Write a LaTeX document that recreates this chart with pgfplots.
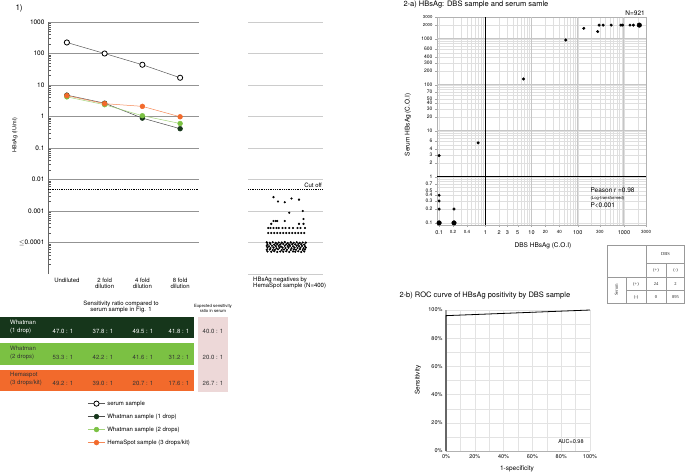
\documentclass[border=0pt]{standalone}
\usepackage{pgfplots}
\pgfplotsset{compat=1.18}
\usepackage{fontspec}
\setmainfont{TeX Gyre Heros}
\newfontfamily\seriffont{Liberation Serif}
\newcommand{\fs}[1]{\fontsize{#1}{#1}\selectfont}

\definecolor{dkgreen}{HTML}{16361B}
\definecolor{ltgreen}{HTML}{7BC143}
\definecolor{orng}{HTML}{F26A2C}
\definecolor{pinkc}{HTML}{EDD8D8}
\definecolor{txt}{HTML}{333333}

% HBsAg negatives (HemaSpot), x = position in column, y = IU/ml
\pgfplotstableread{
x y
0.34 0.00275
0.40 0.0020
0.49 0.0019
0.58 0.0025
0.68 0.0023
0.55 0.00088
0.73 0.0010
0.74 0.00056
0.34 0.00048
0.37 0.00048
0.39 0.00048
0.49 0.00048
0.31 0.00039
0.68 0.00039
0.74 0.00039
0.27 0.00029
0.30 0.00029
0.34 0.00029
0.38 0.00029
0.41 0.00029
0.46 0.00029
0.50 0.00029
0.55 0.00029
0.60 0.00029
0.66 0.00029
0.70 0.00029
0.76 0.00029
0.27 0.0002
0.31 0.0002
0.35 0.0002
0.39 0.0002
0.43 0.0002
0.47 0.0002
0.51 0.0002
0.55 0.0002
0.59 0.0002
0.63 0.0002
0.67 0.0002
0.71 0.0002
0.75 0.0002
0.25 0.000101
0.29 0.000098
0.33 0.000102
0.37 0.000097
0.41 0.000100
0.45 0.000099
0.49 0.000103
0.53 0.000096
0.57 0.000101
0.61 0.000098
0.65 0.000102
0.69 0.000097
0.73 0.000100
0.77 0.000099
0.26 0.000088
0.30 0.000090
0.35 0.000086
0.39 0.000089
0.43 0.000087
0.47 0.000090
0.51 0.000088
0.55 0.000086
0.59 0.000089
0.63 0.000087
0.67 0.000090
0.71 0.000088
0.75 0.000086
0.25 0.000078
0.28 0.000076
0.32 0.000079
0.37 0.000077
0.41 0.000078
0.44 0.000075
0.49 0.000079
0.53 0.000077
0.56 0.000078
0.60 0.000076
0.65 0.000079
0.68 0.000077
0.72 0.000078
0.76 0.000076
0.26 0.000068
0.30 0.000067
0.34 0.000069
0.38 0.000066
0.42 0.000068
0.46 0.000069
0.50 0.000067
0.54 0.000068
0.58 0.000066
0.62 0.000069
0.66 0.000067
0.70 0.000068
0.74 0.000066
0.77 0.000069
0.25 0.000059
0.29 0.000060
0.33 0.000058
0.36 0.000059
0.40 0.000061
0.45 0.000058
0.48 0.000060
0.52 0.000059
0.57 0.000058
0.61 0.000060
0.64 0.000059
0.69 0.000061
0.73 0.000058
0.76 0.000060
0.26 0.000052
0.31 0.000051
0.35 0.000053
0.39 0.000050
0.43 0.000052
0.47 0.000051
0.51 0.000053
0.55 0.000050
0.60 0.000052
0.63 0.000051
0.67 0.000053
0.71 0.000050
0.75 0.000052
}\negs

\begin{document}
\begin{tikzpicture}
\useasboundingbox (0,0) rectangle (685pt,-475pt);

% ---------- panel 1 ----------
\node[anchor=west, font=\fs{8}] at (12pt,-8pt) {1)};
\begin{axis}[scale only axis, at={(48pt,-22pt)}, anchor=north west,
  width=151pt, height=252pt,
  ymode=log, ymin=1e-5, ymax=1000, xmin=-0.5, xmax=3.5,
  axis x line*=bottom, axis y line*=left,
  x axis line style={draw=none},
  y axis line style={draw=gray!80!black, line width=0.9pt, -},
  xtick={0,1,2,3}, xtick style={draw=none},
  xticklabels={Undiluted, 2 fold\\dilution, 4 fold\\dilution, 8 fold\\dilution},
  xticklabel style={align=center, font=\fs{6}, anchor=north, yshift=-1pt},
  ytick={1e-4,1e-3,1e-2,1e-1,1,10,100,1000},
  yticklabels={$\leq$0.0001,0.001,0.01,0.1,1,10,100,1000},
  yticklabel style={font=\fs{6.5}},
  minor ytick={2e-5,3e-5,4e-5,5e-5,6e-5,7e-5,8e-5,9e-5,
    2e-4,3e-4,4e-4,5e-4,6e-4,7e-4,8e-4,9e-4,
    2e-3,3e-3,4e-3,5e-3,6e-3,7e-3,8e-3,9e-3,
    0.02,0.03,0.04,0.05,0.06,0.07,0.08,0.09,
    0.2,0.3,0.4,0.5,0.6,0.7,0.8,0.9,
    2,3,4,5,6,7,8,9,20,30,40,50,60,70,80,90,200,300,400,500,600,700,800,900},
  tick align=inside, major tick length=0pt, minor tick length=2.5pt,
  minor tick style={gray!70!black, line width=0.6pt},
  ymajorgrids, major grid style={gray!85, line width=0.9pt},
  legend style={at={(0.255,-0.49)}, anchor=north west, draw=none, fill=none,
    font=\fs{6}, row sep=3.1pt, inner sep=1pt},
  legend cell align=left,
]
\addplot[gray!70!black, line width=0.5pt, mark=*, mark size=2.6pt,
  mark options={fill=white, draw=black, line width=0.8pt}]
  coordinates {(0,224) (1,100) (2,44) (3,17)};
\addlegendentry{serum sample}
\addplot[gray!60!black, line width=0.5pt, mark=*, mark size=2.4pt,
  mark options={fill=dkgreen, draw=dkgreen}]
  coordinates {(0,4.77) (1,2.65) (2,0.89) (3,0.41)};
\addlegendentry{Whatman sample (1 drop)}
\addplot[ltgreen!70, line width=0.5pt, mark=*, mark size=2.4pt,
  mark options={fill=ltgreen, draw=ltgreen}]
  coordinates {(0,4.2) (1,2.37) (2,1.06) (3,0.6)};
\addlegendentry{Whatman sample (2 drops)}
\addplot[orng!80, line width=0.5pt, mark=*, mark size=2.4pt,
  mark options={fill=orng, draw=orng}]
  coordinates {(0,4.6) (1,2.56) (2,2.1) (3,0.98)};
\addlegendentry{HemaSpot sample (3 drops/kit)}
\addplot[black, densely dotted, line width=0.8pt, forget plot]
  coordinates {(-0.5,0.005) (3.5,0.005)};
\end{axis}
\node[rotate=90, font=\fs{5.5}] at (15pt,-135pt) {HBsAg (IU/ml)};

% ---------- negatives column ----------
\begin{axis}[scale only axis, at={(248pt,-22pt)}, anchor=north west,
  width=75pt, height=252pt,
  ymode=log, ymin=1e-5, ymax=1000, xmin=0, xmax=1,
  axis line style={draw=none},
  xtick=\empty, ytick={1e-5,1e-4,1e-3,1e-2,1e-1,1,10,100,1000},
  yticklabels={}, tick style={draw=none},
  ymajorgrids, major grid style={gray!40, line width=0.9pt},
  clip=false,
]
\addplot[only marks, mark=*, mark size=0.9pt, black] table[x=x, y=y] {\negs};
\addplot[black, densely dotted, line width=0.8pt]
  coordinates {(0,0.005) (1,0.005)};
\node[anchor=south east, font=\fs{6}, inner sep=1pt] at (axis cs:1,0.005) {Cut off};
\end{axis}
\node[anchor=north west, align=left, font=\fs{6}, inner sep=0pt] at (253pt,-277pt)
  {HBsAg negatives by\\[-0.3pt]HemaSpot sample (N=400)};

% ---------- sensitivity ratio table ----------
\node[align=center, font=\fs{6}] at (121pt,-307pt)
  {Sensitivity ratio compared to\\[0.5pt]serum sample in Fig. 1};
\node[align=center, font=\fs{4.3}] at (213pt,-308.5pt)
  {Expected sensitivity\\[0.5pt]ratio in serum};
\fill[pinkc] (198pt,-317pt) rectangle (228pt,-392pt);
\fill[dkgreen] (0pt,-317pt) rectangle (194pt,-338pt);
\fill[ltgreen] (0pt,-343pt) rectangle (194pt,-365pt);
\fill[orng] (0pt,-370pt) rectangle (194pt,-391pt);
\begin{scope}[every node/.style={font=\fs{6}, inner sep=0pt}]
\node[anchor=west, white] at (10pt,-322pt) {Whatman};
\node[anchor=west, white] at (10pt,-331pt) {(1 drop)};
\node[white] at (63pt,-331pt) {47.0 : 1};
\node[white] at (103pt,-331pt) {37.8 : 1};
\node[white] at (143pt,-331pt) {49.5 : 1};
\node[white] at (179pt,-331pt) {41.8 : 1};
\node[anchor=west, txt] at (10pt,-348pt) {Whatman};
\node[anchor=west, txt] at (10pt,-357pt) {(2 drops)};
\node[txt] at (63pt,-357pt) {53.3 : 1};
\node[txt] at (103pt,-357pt) {42.2 : 1};
\node[txt] at (143pt,-357pt) {41.6 : 1};
\node[txt] at (179pt,-357pt) {31.2 : 1};
\node[anchor=west, txt] at (10pt,-375pt) {Hemaspot};
\node[anchor=west, txt] at (10pt,-383pt) {(3 drops/kit)};
\node[txt] at (63pt,-383pt) {49.2 : 1};
\node[txt] at (103pt,-383pt) {39.0 : 1};
\node[txt] at (143pt,-383pt) {20.7 : 1};
\node[txt] at (179pt,-383pt) {17.6 : 1};
\node[txt] at (213pt,-331pt) {40.0 : 1};
\node[txt] at (213pt,-357pt) {20.0 : 1};
\node[txt] at (213pt,-383pt) {26.7 : 1};
\end{scope}

% ---------- 2-a scatter ----------
\node[anchor=west, font=\fs{7.5}] at (400pt,-5pt) {2-a) HBsAg: DBS sample and serum samle};
\begin{axis}[scale only axis, at={(437pt,-17pt)}, anchor=north west,
  width=209pt, height=208pt,
  xmode=log, ymode=log, xmin=0.09, xmax=3000, ymin=0.09, ymax=3000,
  axis line style={gray!60},
  xtick={0.1,0.2,0.4,1,2,3,5,10,20,40,100,300,1000,3000},
  xticklabels={0.1,{\fs{4.5}0.2},{\fs{4.5}0.4},1,2,3,5,10,{\fs{4.5}20},{\fs{4.5}40},100,{\fs{4.5}300},1000,{\fs{4.5}3000}},
  ytick={0.1,0.2,0.3,0.4,0.5,0.7,1,2,3,4,6,10,20,30,40,50,70,100,200,300,400,600,1000,2000,3000},
  yticklabels={0.1,0.2,0.3,0.4,0.5,0.7,1,2,3,4,6,10,20,30,40,50,70,100,200,300,400,600,1000,{\fs{4.3}2000},{\fs{4.3}3000}},
  xticklabel style={font=\fs{5.5}},
  yticklabel style={font=\fs{5}, xshift=1pt},
  minor xtick={0.3,0.5,0.6,0.7,0.8,0.9,4,6,7,8,9,30,50,60,70,80,90,200,400,500,600,700,800,900,2000},
  minor ytick={0.6,0.8,0.9,5,7,8,9,60,80,90,500,700,800,900},
  grid=both, major grid style={gray!25, line width=0.5pt},
  minor grid style={gray!25, line width=0.5pt},
  tick align=outside, major tick length=2pt, minor tick length=0pt,
  tick style={gray!70},
  xtick pos=bottom, ytick pos=left,
  clip=false,
]
\draw[gray!45, line width=1pt] (axis cs:10,0.09) -- (axis cs:10,3000);
\draw[gray!45, line width=1pt] (axis cs:100,0.09) -- (axis cs:100,3000);
\draw[gray!45, line width=1pt] (axis cs:1000,0.09) -- (axis cs:1000,3000);
\draw[gray!45, line width=1pt] (axis cs:0.09,10) -- (axis cs:3000,10);
\draw[gray!45, line width=1pt] (axis cs:0.09,100) -- (axis cs:3000,100);
\draw[gray!45, line width=1pt] (axis cs:0.09,1000) -- (axis cs:3000,1000);
\draw[black, line width=0.9pt] (axis cs:1,0.09) -- (axis cs:1,3000);
\draw[black, line width=0.9pt] (axis cs:0.09,1) -- (axis cs:3000,1);
\addplot[only marks, mark=*, mark size=1.3pt, black] coordinates {
  (0.1,2.9) (0.7,5.5) (6.7,135) (55,950) (135,1700) (270,1450)
  (290,2000) (355,2000) (530,2000) (860,2000) (940,2000) (1350,2000) (1600,2000)
  (0.1,0.4) (0.1,0.3) (0.1,0.2) (0.21,0.2)};
\addplot[only marks, mark=*, mark size=2.3pt, black] coordinates {
  (2150,2000) (0.1,0.1) (0.21,0.1)};
\node[anchor=south east, font=\fs{6.5}, inner sep=1pt] at (rel axis cs:1,1) {N=921};
\end{axis}
\node[anchor=west, font=\fs{6.5}] at (587pt,-190pt) {Peason r =0.98};
\node[anchor=west, font=\fs{4.2}] at (587pt,-198pt) {(Log-transformed)};
\node[anchor=west, font=\fs{6.5}] at (587pt,-205pt) {P<0.001};
\node[font=\fs{6.5}] at (543pt,-246pt) {DBS HBsAg (C.O.I)};
\node[rotate=90, font=\fs{6.5}] at (408pt,-125pt) {Serum HBsAg (C.O.I)};

% ---------- DBS x serum table ----------
\begin{scope}[gray!80, line width=0.4pt]
\draw (607pt,-245pt) rectangle (684.5pt,-303pt);
\draw (646pt,-245pt) -- (646pt,-303pt);
\draw (666pt,-263pt) -- (666pt,-303pt);
\draw (646pt,-263pt) -- (684.5pt,-263pt);
\draw (607pt,-277pt) -- (684.5pt,-277pt);
\draw (626pt,-290.5pt) -- (684.5pt,-290.5pt);
\draw (626pt,-277pt) -- (626pt,-303pt);
\end{scope}
\begin{scope}[every node/.style={font={\seriffont\fs{4.5}}, inner sep=0pt, black!85}]
\node at (665.5pt,-254pt) {DBS};
\node at (656pt,-270pt) {(+)};
\node at (675.5pt,-270pt) {(-)};
\node[rotate=90] at (616.5pt,-290pt) {Serum};
\node at (636pt,-284pt) {(+)};
\node at (656pt,-284pt) {24};
\node at (675.5pt,-284pt) {2};
\node at (636pt,-297pt) {(-)};
\node at (656pt,-297pt) {0};
\node at (675.5pt,-297pt) {895};
\end{scope}

% ---------- 2-b ROC ----------
\node[anchor=west, font=\fs{7.5}] at (396pt,-296pt) {2-b) ROC curve of HBsAg positivity by DBS sample};
\begin{axis}[scale only axis, at={(446pt,-310pt)}, anchor=north west,
  width=144pt, height=141pt,
  xmin=0, xmax=1, ymin=0, ymax=1,
  axis x line*=bottom, axis y line*=left,
  x axis line style={gray!60, -}, y axis line style={gray!75, line width=1.6pt, -},
  xtick={0,0.2,0.4,0.6,0.8,1}, ytick={0,0.2,0.4,0.6,0.8,1},
  xticklabels={0\%,20\%,40\%,60\%,80\%,100\%},
  yticklabels={0\%,20\%,40\%,60\%,80\%,100\%},
  minor xtick={0.1,0.3,0.5,0.7,0.9}, minor ytick={0.1,0.3,0.5,0.7,0.9},
  grid=both, major grid style={gray!22}, minor grid style={gray!22},
  tick style={draw=none},
  xticklabel style={font=\fs{5.5}}, yticklabel style={font=\fs{5.5}},
  clip=false,
]
\addplot[black, line width=0.8pt] coordinates {(0,0) (0,0.96) (1,1)};
\node[anchor=east, font=\fs{5.5}] at (axis cs:0.98,0.07) {AUC=0.98};
\end{axis}
\node[rotate=90, font=\fs{6.5}] at (418pt,-380pt) {Sensitivity};
\node[font=\fs{6.5}] at (517pt,-469pt) {1-specificity};
\end{tikzpicture}
\end{document}
